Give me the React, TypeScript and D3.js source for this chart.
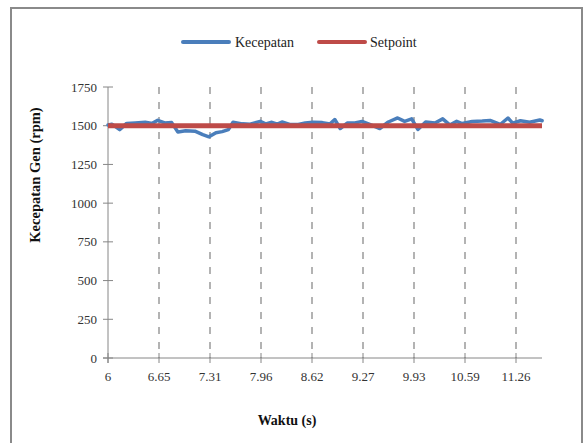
import React from "react";
import * as d3 from "d3";

// time (s)
const times = [
  6.0, 6.05, 6.15, 6.24, 6.35, 6.48, 6.57, 6.64, 6.73, 6.82, 6.9, 7.0, 7.12,
  7.22, 7.3, 7.39, 7.47, 7.55, 7.61, 7.73, 7.83, 7.96, 8.03, 8.11, 8.18, 8.24,
  8.34, 8.45, 8.54, 8.64, 8.76, 8.86, 8.92, 8.99, 9.08, 9.18, 9.27, 9.37, 9.5,
  9.61, 9.73, 9.82, 9.91, 9.99, 10.09, 10.21, 10.31, 10.4, 10.49, 10.56, 10.69,
  10.82, 10.92, 11.05, 11.15, 11.21, 11.31, 11.43, 11.56, 11.59,
];

// Kecepatan (rpm)
const kecepatan = [
  1505, 1510, 1475, 1515, 1518, 1522, 1515, 1535, 1518, 1520, 1460, 1468, 1465,
  1442, 1428, 1455, 1462, 1475, 1522, 1512, 1510, 1528, 1512, 1522, 1510, 1524,
  1508, 1508, 1517, 1522, 1520, 1512, 1540, 1482, 1517, 1518, 1528, 1508, 1482,
  1524, 1550, 1528, 1544, 1476, 1524, 1517, 1544, 1505, 1528, 1514, 1527, 1530,
  1534, 1508, 1550, 1517, 1532, 1522, 1537, 1532,
];

const setpoint = 1500;

const xTickValues = [6, 6.65, 7.31, 7.96, 8.62, 9.27, 9.93, 10.59, 11.26];
const yTickValues = [0, 250, 500, 750, 1000, 1250, 1500, 1750];

const font = "'Liberation Serif', 'Times New Roman', serif";

export default function App() {
  const width = 587;
  const height = 443;
  const left = 108;
  const right = 542;
  const top = 87;
  const bottom = 358;
  const step = 0.6567; // spacing of the category labels

  const x = d3.scaleLinear().domain([6, 6 + (right - left) / (51 / step)]).range([left, right]);
  const y = d3.scaleLinear().domain([0, 1750]).range([bottom, top]);

  // labels sit on the category ticks
  const tickPos = (i: number) => x(6 + i * step);

  const line = d3
    .line<number>()
    .x((d, i) => x(times[i]))
    .y((d) => y(d));

  return (
    <svg
      width={width}
      height={height}
      style={{ position: "fixed", left: 0, top: 0, background: "#fff" }}
    >
      <rect x={11} y={8} width={571} height={450} fill="#fff" stroke="#8a8a8a" strokeWidth={2} />

      {/* legend */}
      <g fontFamily={font} fontSize={14} fill="#222">
        <line x1={183} x2={229} y1={42} y2={42} stroke="#4A7EBB" strokeWidth={4} strokeLinecap="round" />
        <text x={235} y={46.5}>Kecepatan</text>
        <line x1={319} x2={365} y1={42} y2={42} stroke="#BE4B48" strokeWidth={4} strokeLinecap="round" />
        <text x={370} y={46.5}>Setpoint</text>
      </g>

      {/* dashed vertical gridlines */}
      {xTickValues.slice(1).map((t, i) => (
        <line
          key={t}
          x1={tickPos(i + 1)}
          x2={tickPos(i + 1)}
          y1={top}
          y2={bottom}
          stroke="#9a9a9a"
          strokeWidth={1.5}
          strokeDasharray="7 8"
        />
      ))}

      {/* axes */}
      <line x1={left} x2={left} y1={top} y2={bottom + 5} stroke="#868686" strokeWidth={1} />
      <line x1={left - 5} x2={right} y1={bottom} y2={bottom} stroke="#868686" strokeWidth={1} />
      {yTickValues.map((v) => (
        <g key={v}>
          <line x1={left - 5} x2={left + 5} y1={y(v)} y2={y(v)} stroke="#868686" />
          <text
            x={97}
            y={y(v)}
            dy="0.35em"
            textAnchor="end"
            fontFamily={font}
            fontSize={13}
            fill="#333"
          >
            {v}
          </text>
        </g>
      ))}
      {xTickValues.map((t, i) => (
        <g key={t}>
          <line x1={tickPos(i)} x2={tickPos(i)} y1={bottom - 5} y2={bottom + 5} stroke="#868686" />
          <text
            x={tickPos(i)}
            y={381}
            textAnchor="middle"
            fontFamily={font}
            fontSize={13}
            fill="#333"
          >
            {t}
          </text>
        </g>
      ))}

      {/* series */}
      <path
        d={line(kecepatan) || ""}
        fill="none"
        stroke="#4A7EBB"
        strokeWidth={3.5}
        strokeLinejoin="round"
        strokeLinecap="round"
      />
      <line
        x1={x.range()[0]}
        x2={x.range()[1]}
        y1={y(setpoint)}
        y2={y(setpoint)}
        stroke="#BE4B48"
        strokeWidth={5}
      />

      {/* axis titles */}
      <text
        x={287}
        y={425}
        textAnchor="middle"
        fontFamily={font}
        fontSize={14}
        fontWeight="bold"
        fill="#111"
      >
        Waktu (s)
      </text>
      <text
        transform="translate(40,175) rotate(-90)"
        textAnchor="middle"
        fontFamily={font}
        fontSize={14.5}
        fontWeight="bold"
        fill="#111"
      >
        Kecepatan Gen (rpm)
      </text>
    </svg>
  );
}
